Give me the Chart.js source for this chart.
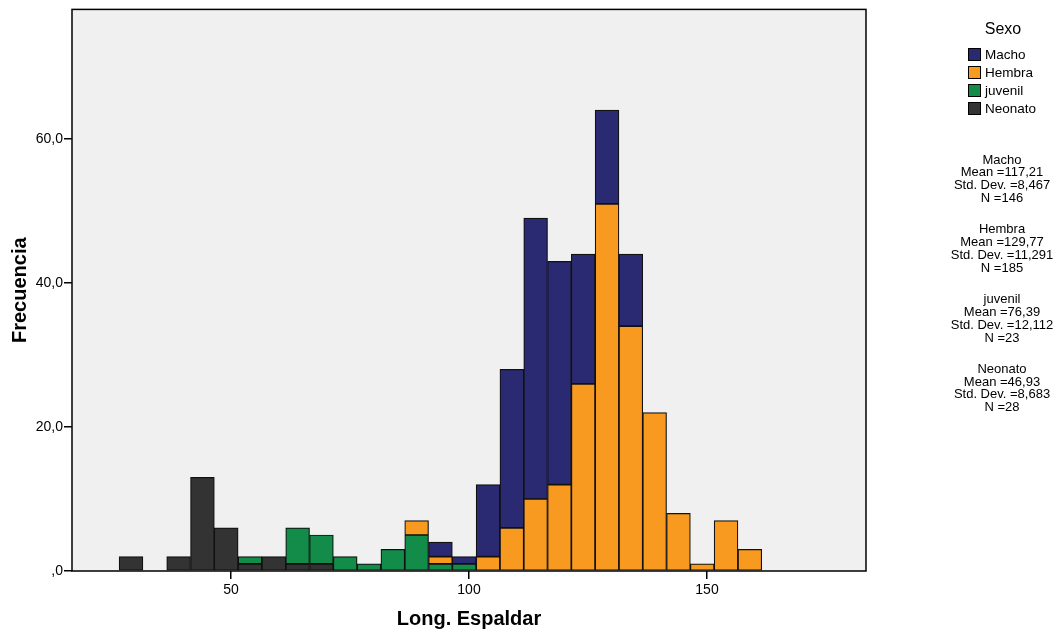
<!DOCTYPE html>
<html>
<head>
<meta charset="utf-8">
<script src="https://cdn.jsdelivr.net/npm/chart.js@4.4.0/dist/chart.umd.min.js"></script>
<style>
  html, body { margin: 0; padding: 0; background: #fff; }
  #wrap { width: 1064px; height: 632px; position: relative; }
</style>
</head>
<body>
<div id="wrap"><canvas id="hist"></canvas></div>
<script>
// bin centres (width 5)
const binCenters = [29, 34, 39, 44, 49, 54, 59, 64, 69, 74, 79, 84, 89, 94, 99,
                    104, 109, 114, 119, 124, 129, 134, 139, 144, 149, 154, 159];

const neonato = [2, 0, 2, 13, 6, 1, 2, 1, 1, 0, 0, 0, 0, 0, 0,
                 0, 0, 0, 0, 0, 0, 0, 0, 0, 0, 0, 0];
const juvenil = [0, 0, 0, 0, 0, 1, 0, 5, 4, 2, 1, 3, 5, 1, 1,
                 0, 0, 0, 0, 0, 0, 0, 0, 0, 0, 0, 0];
const hembra  = [0, 0, 0, 0, 0, 0, 0, 0, 0, 0, 0, 0, 2, 1, 0,
                 2, 6, 10, 12, 26, 51, 34, 22, 8, 1, 7, 3];
const macho   = [0, 0, 0, 0, 0, 0, 0, 0, 0, 0, 0, 0, 0, 2, 1,
                 10, 22, 39, 31, 18, 13, 10, 0, 0, 0, 0, 0];

const xTicks = [50, 100, 150];
const yTicks = [0, 20, 40, 60];

const groups = ["Macho", "Hembra", "juvenil", "Neonato"];
const groupColors = ["#292a72", "#f89a1f", "#128c48", "#333333"];
const stats = [
  ["Macho", "Mean =117,21", "Std. Dev. =8,467", "N =146"],
  ["Hembra", "Mean =129,77", "Std. Dev. =11,291", "N =185"],
  ["juvenil", "Mean =76,39", "Std. Dev. =12,112", "N =23"],
  ["Neonato", "Mean =46,93", "Std. Dev. =8,683", "N =28"]
];

const FONT = "'Liberation Sans', Arial, sans-serif";

function toPoints(arr) {
  return binCenters.map((x, i) => ({ x: x, y: arr[i] === 0 ? null : arr[i] }));
}

function ds(label, arr, color) {
  return {
    label,
    data: toPoints(arr),
    backgroundColor: color,
    borderColor: "#111",
    borderWidth: 1.2,
    borderSkipped: false,
    barPercentage: 1,
    categoryPercentage: 1
  };
}

const frame = {
  id: "frame",
  beforeDraw(chart) {
    const { ctx, chartArea: a } = chart;
    ctx.save();
    ctx.fillStyle = "#f0f0f0";
    ctx.fillRect(a.left, a.top, a.right - a.left, a.bottom - a.top);
    ctx.restore();
  },
  afterDatasetsDraw(chart) {
    const { ctx, chartArea: a } = chart;
    ctx.save();
    ctx.strokeStyle = "#000";
    ctx.lineWidth = 1.5;
    ctx.strokeRect(a.left, a.top, a.right - a.left, a.bottom - a.top);
    ctx.restore();
  }
};

const sidePanel = {
  id: "sidePanel",
  afterDraw(chart) {
    const ctx = chart.ctx;
    ctx.save();
    ctx.fillStyle = "#000";
    ctx.textBaseline = "middle";
    ctx.textAlign = "center";
    ctx.font = "16px " + FONT;
    ctx.fillText("Sexo", 1003, 30);

    ctx.font = "13.5px " + FONT;
    ctx.textAlign = "left";
    groups.forEach((g, i) => {
      const y = 48 + i * 18;
      ctx.fillStyle = groupColors[i];
      ctx.fillRect(968, y, 13, 13);
      ctx.strokeStyle = "#000";
      ctx.lineWidth = 1;
      ctx.strokeRect(968.5, y + 0.5, 12, 12);
      ctx.fillStyle = "#000";
      ctx.fillText(g, 985, y + 7);
    });

    ctx.font = "13px " + FONT;
    ctx.textAlign = "center";
    stats.forEach((block, b) => {
      block.forEach((line, j) => {
        ctx.fillText(line, 1002, 160 + b * 69.7 + j * 12.9);
      });
    });
    ctx.restore();
  }
};

new Chart(document.getElementById("hist"), {
  type: "bar",
  data: {
    datasets: [
      ds("Neonato", neonato, groupColors[3]),
      ds("juvenil", juvenil, groupColors[2]),
      ds("Hembra", hembra, groupColors[1]),
      ds("Macho", macho, groupColors[0])
    ]
  },
  options: {
    responsive: true,
    maintainAspectRatio: false,
    animation: false,
    layout: { padding: { left: 0, top: 9, right: 198, bottom: 0 } },
    plugins: {
      legend: { display: false },
      tooltip: { enabled: false }
    },
    scales: {
      x: {
        type: "linear",
        stacked: true,
        min: 16.6,
        max: 183.4,
        offset: false,
        afterBuildTicks(scale) { scale.ticks = xTicks.map(v => ({ value: v })); },
        afterFit(scale) { scale.height = 61; },
        grid: { offset: false, drawOnChartArea: false, drawTicks: true, tickLength: 8, color: "#000", lineWidth: 1.5 },
        border: { display: false },
        ticks: { color: "#000", font: { family: FONT, size: 14 }, padding: 3, maxRotation: 0 },
        title: { display: true, text: "Long. Espaldar", color: "#000",
                 font: { family: FONT, size: 20, weight: "bold" }, padding: { top: 0, bottom: 1 } }
      },
      y: {
        stacked: true,
        min: 0,
        max: 78,
        afterBuildTicks(scale) { scale.ticks = yTicks.map(v => ({ value: v })); },
        afterFit(scale) { scale.width = 72; },
        grid: { offset: false, drawOnChartArea: false, drawTicks: true, tickLength: 8, color: "#000", lineWidth: 1.5 },
        border: { display: false },
        ticks: {
          color: "#000",
          font: { family: FONT, size: 14 },
          padding: 1,
          callback: v => v === 0 ? ",0" : v.toFixed(1).replace(".", ",")
        },
        title: { display: true, text: "Frecuencia", color: "#000",
                 font: { family: FONT, size: 20, weight: "bold" }, padding: { top: 8, bottom: 0 } }
      }
    }
  },
  plugins: [frame, sidePanel]
});
</script>
</body>
</html>
